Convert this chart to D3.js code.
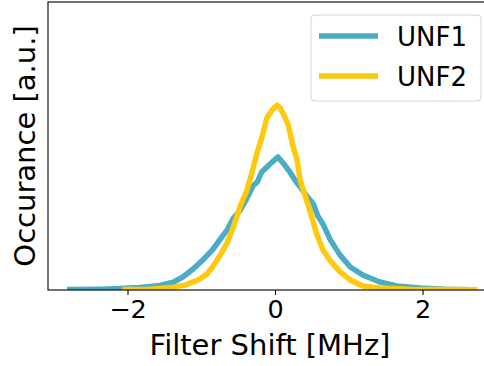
<!DOCTYPE html>
<html>
<head>
<meta charset="utf-8">
<script src="https://cdn.jsdelivr.net/npm/d3@7"></script>
<style>
  body { margin: 0; background: #fff; }
  text { font-family: "DejaVu Sans", sans-serif; }
</style>
</head>
<body>
<svg id="chart" width="484" height="366"></svg>
<script>
// Filter shift in MHz and occurrence (arbitrary units).
let unf1_shift = [-2.82, -2.37, -2.10, -1.83, -1.56, -1.38, -1.25, -1.11, -0.98, -0.84, -0.75, -0.65, -0.57, -0.47, -0.38, -0.30, -0.24, -0.18, -0.11, -0.04, 0.04, 0.11, 0.20, 0.27, 0.34, 0.42, 0.52, 0.58, 0.65, 0.75, 0.88, 1.02, 1.19, 1.42, 1.65, 1.97, 2.31, 2.58];
let unf1_occ = [0.002, 0.003, 0.005, 0.009, 0.016, 0.027, 0.045, 0.073, 0.104, 0.142, 0.174, 0.208, 0.247, 0.278, 0.319, 0.361, 0.375, 0.410, 0.427, 0.444, 0.462, 0.441, 0.410, 0.382, 0.358, 0.330, 0.299, 0.257, 0.229, 0.174, 0.122, 0.080, 0.052, 0.028, 0.014, 0.007, 0.003, 0.002];

let unf2_shift = [-2.07, -1.69, -1.38, -1.22, -1.11, -1.02, -0.92, -0.84, -0.75, -0.65, -0.57, -0.47, -0.38, -0.31, -0.24, -0.18, -0.11, -0.04, 0.03, 0.07, 0.12, 0.18, 0.24, 0.30, 0.34, 0.41, 0.47, 0.57, 0.65, 0.75, 0.88, 1.02, 1.19, 1.42, 1.83, 2.24, 2.74];
let unf2_occ = [0.002, 0.003, 0.010, 0.017, 0.028, 0.038, 0.056, 0.083, 0.118, 0.163, 0.215, 0.292, 0.347, 0.410, 0.479, 0.528, 0.597, 0.625, 0.642, 0.632, 0.608, 0.573, 0.503, 0.451, 0.382, 0.326, 0.278, 0.191, 0.139, 0.101, 0.063, 0.035, 0.014, 0.007, 0.003, 0.002, 0.001];

let series_names = ["UNF1", "UNF2"];
let series_colors = ["#4bacc6", "#ffc90e"];
let x_ticks = [-2, 0, 2];

let svg = d3.select("#chart");

// plot area (right side runs past the window edge, like the original)
let plot_left = 48, plot_right = 492, plot_top = 2, plot_bottom = 290;

let x = d3.scaleLinear().domain([-3.078, 2.942]).range([plot_left, plot_right]);
let y = d3.scaleLinear().domain([0, 1]).range([plot_bottom, plot_top]);

let line = d3.line()
    .x(d => x(d[0]))
    .y(d => y(d[1]));

let series = [
    d3.zip(unf1_shift, unf1_occ),
    d3.zip(unf2_shift, unf2_occ)
];

svg.append("defs").append("clipPath").attr("id", "plotclip")
    .append("rect")
    .attr("x", plot_left).attr("y", plot_top)
    .attr("width", plot_right - plot_left).attr("height", plot_bottom - plot_top);

svg.append("g")
    .attr("clip-path", "url(#plotclip)")
    .selectAll("path")
    .data(series)
    .enter().append("path")
    .attr("d", line)
    .attr("fill", "none")
    .attr("stroke", (d, i) => series_colors[i])
    .attr("stroke-width", 5.5)
    .attr("stroke-linejoin", "round")
    .attr("stroke-linecap", "butt");

// frame
svg.append("rect")
    .attr("x", plot_left).attr("y", plot_top)
    .attr("width", plot_right - plot_left).attr("height", plot_bottom - plot_top)
    .attr("fill", "none")
    .attr("stroke", "black")
    .attr("stroke-width", 1.1);

// x axis
let xAxis = d3.axisBottom(x)
    .tickValues(x_ticks)
    .tickSize(5)
    .tickPadding(5)
    .tickFormat(d => d < 0 ? "\u2212" + Math.abs(d) : d);

let gx = svg.append("g")
    .attr("transform", `translate(0,${plot_bottom})`)
    .call(xAxis);
gx.select(".domain").remove();
gx.selectAll("line").attr("stroke", "black").attr("stroke-width", 1.1);
gx.selectAll("text")
    .attr("fill", "black")
    .style("font-family", "DejaVu Sans")
    .style("font-size", "25.5px");

svg.append("text")
    .attr("x", (plot_left + plot_right) / 2)
    .attr("y", 355)
    .attr("text-anchor", "middle")
    .style("font-size", "29px")
    .text("Filter Shift [MHz]");

svg.append("text")
    .attr("transform", `translate(35,${(plot_top + plot_bottom) / 2}) rotate(-90)`)
    .attr("text-anchor", "middle")
    .style("font-size", "29px")
    .text("Occurance [a.u.]");

// legend
let legend = svg.append("g");
legend.append("rect")
    .attr("x", 311).attr("y", 15)
    .attr("width", 170).attr("height", 86)
    .attr("rx", 4)
    .attr("fill", "white")
    .attr("fill-opacity", 0.8)
    .attr("stroke", "#d6d6d6")
    .attr("stroke-width", 1);

let items = legend.selectAll(".item")
    .data(series_names)
    .enter().append("g")
    .attr("class", "item")
    .attr("transform", (d, i) => `translate(0,${36 + i * 40})`);

items.append("line")
    .attr("x1", 319).attr("x2", 378)
    .attr("y1", 0).attr("y2", 0)
    .attr("stroke", (d, i) => series_colors[i])
    .attr("stroke-width", 5.5);

items.append("text")
    .attr("x", 397)
    .attr("y", 9.5)
    .style("font-size", "26px")
    .text(d => d);
</script>
</body>
</html>
